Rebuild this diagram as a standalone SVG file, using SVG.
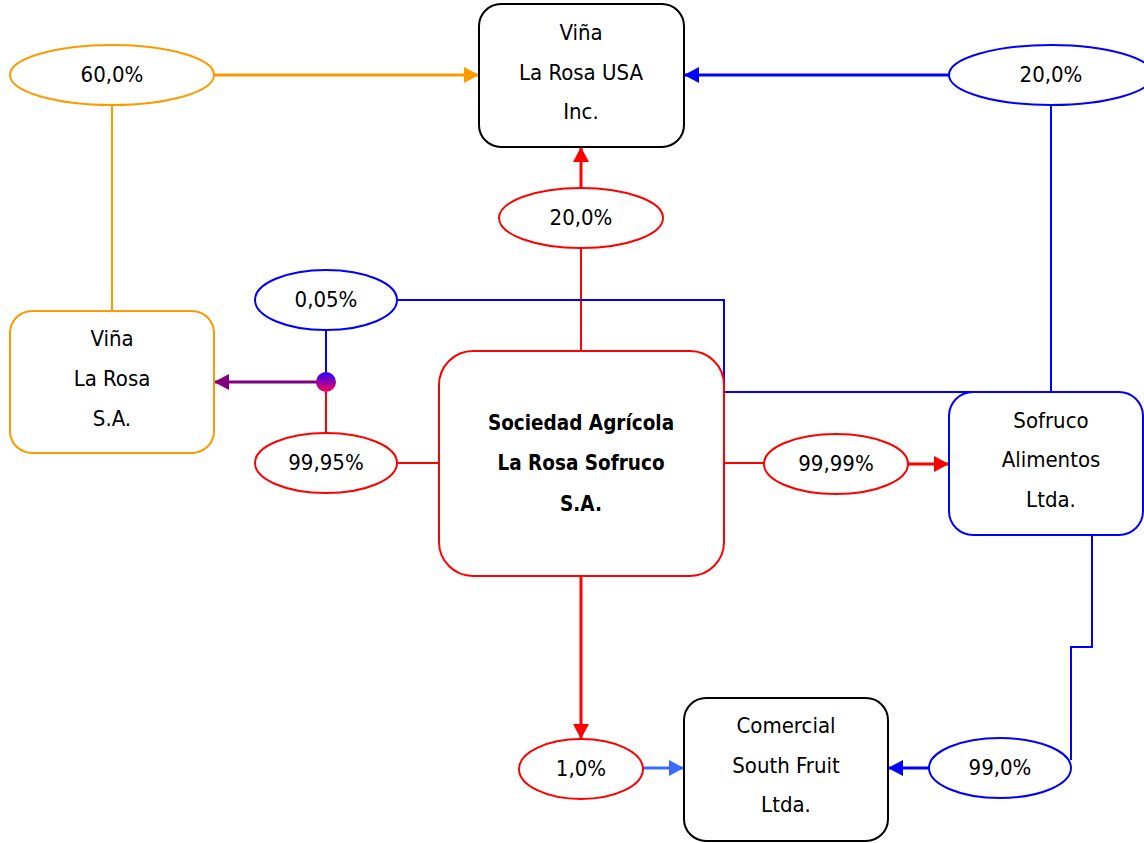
<svg xmlns="http://www.w3.org/2000/svg" width="1144" height="843" viewBox="0 0 1144 843">
<style>
text{font-family:"DejaVu Sans Condensed","DejaVu Sans",sans-serif;font-size:22px;fill:#000;text-anchor:middle}
.b{font-weight:bold;font-size:20.5px}
.box{fill:#fff;stroke-width:2}
.ell{fill:#fff;stroke-width:2}
.ln{fill:none;stroke-width:2}
.ar{fill:none;stroke-width:3}
.o{stroke:#FF9900}.r{stroke:#FF0000}.u{stroke:#0000FF}.k{stroke:#000}.p{stroke:#800080}.lb{stroke:#3A6BFF}
</style>
<defs>
<marker id="mo" markerUnits="userSpaceOnUse" markerWidth="15" markerHeight="16" refX="15" refY="8" orient="auto"><path d="M0,0L15,8L0,16z" fill="#FF9900"/></marker>
<marker id="mu" markerUnits="userSpaceOnUse" markerWidth="15" markerHeight="16" refX="15" refY="8" orient="auto"><path d="M0,0L15,8L0,16z" fill="#0000FF"/></marker>
<marker id="mr" markerUnits="userSpaceOnUse" markerWidth="15" markerHeight="16" refX="15" refY="8" orient="auto"><path d="M0,0L15,8L0,16z" fill="#FF0000"/></marker>
<marker id="mp" markerUnits="userSpaceOnUse" markerWidth="15" markerHeight="16" refX="15" refY="8" orient="auto"><path d="M0,0L15,8L0,16z" fill="#800080"/></marker>
<marker id="mlb" markerUnits="userSpaceOnUse" markerWidth="15" markerHeight="16" refX="15" refY="8" orient="auto"><path d="M0,0L15,8L0,16z" fill="#3A6BFF"/></marker>
<linearGradient id="dotg" x1="0" y1="0" x2="0" y2="1"><stop offset="0" stop-color="#2200FF"/><stop offset="1" stop-color="#FF0055"/></linearGradient>
</defs>
<g id="connectors">
<line class="ar o" x1="214" y1="75" x2="479" y2="75" marker-end="url(#mo)"/>
<line class="ln o" x1="112" y1="106" x2="112" y2="311"/>
<line class="ar u" x1="949" y1="75" x2="684" y2="75" marker-end="url(#mu)"/>
<line class="ln u" x1="1051" y1="105" x2="1051" y2="392"/>
<line class="ar r" x1="581" y1="188" x2="581" y2="147" marker-end="url(#mr)"/>
<line class="ln r" x1="581" y1="248" x2="581" y2="351"/>
<polyline class="ln u" points="398,300 724,300 724,392 1051,392"/>
<line class="ln u" x1="326" y1="330" x2="326" y2="372"/>
<line class="ln r" x1="326" y1="392" x2="326" y2="434"/>
<line class="ar p" x1="317" y1="382" x2="214" y2="382" marker-end="url(#mp)"/>
<line class="ln r" x1="398" y1="463" x2="439" y2="463"/>
<line class="ln r" x1="724" y1="463" x2="765" y2="463"/>
<line class="ar r" x1="908" y1="464" x2="949" y2="464" marker-end="url(#mr)"/>
<line class="ar r" x1="581" y1="576" x2="581" y2="739" marker-end="url(#mr)"/>
<line class="ar lb" x1="643" y1="768" x2="684" y2="768" marker-end="url(#mlb)"/>
<polyline class="ln u" points="1092,535 1092,647 1071,647 1071,760"/>
<line class="ar u" x1="929" y1="768" x2="888" y2="768" marker-end="url(#mu)"/>
<circle cx="326" cy="382" r="10" fill="url(#dotg)"/>
</g>
<g id="vina-usa">
<rect class="box k" x="479" y="4" width="205" height="143" rx="22"/>
<text x="581" y="40">Viña</text><text x="581" y="80">La Rosa USA</text><text x="581" y="119">Inc.</text>
</g>
<g id="vina-larosa">
<rect class="box o" x="10" y="311" width="204" height="142" rx="22"/>
<text x="112" y="346">Viña</text><text x="112" y="386">La Rosa</text><text x="112" y="426">S.A.</text>
</g>
<g id="sociedad">
<rect class="box r" x="439" y="351" width="285" height="225" rx="34"/>
<text class="b" x="581" y="430">Sociedad Agrícola</text><text class="b" x="581" y="470">La Rosa Sofruco</text><text class="b" x="581" y="511">S.A.</text>
</g>
<g id="sofruco">
<rect class="box u" x="949" y="392" width="194" height="143" rx="24"/>
<text x="1051" y="428">Sofruco</text><text x="1051" y="467">Alimentos</text><text x="1051" y="507">Ltda.</text>
</g>
<g id="comercial">
<rect class="box k" x="684" y="698" width="204" height="143" rx="22"/>
<text x="786" y="733">Comercial</text><text x="786" y="773">South Fruit</text><text x="786" y="812">Ltda.</text>
</g>
<g id="e60"><ellipse class="ell o" cx="112" cy="75" rx="102" ry="30"/><text x="112" y="82">60,0%</text></g>
<g id="e20b"><ellipse class="ell u" cx="1051" cy="75" rx="102" ry="30"/><text x="1051" y="82">20,0%</text></g>
<g id="e20r"><ellipse class="ell r" cx="581" cy="218" rx="82" ry="30"/><text x="581" y="225">20,0%</text></g>
<g id="e005"><ellipse class="ell u" cx="326" cy="300" rx="71" ry="30"/><text x="326" y="307">0,05%</text></g>
<g id="e9995"><ellipse class="ell r" cx="326" cy="463" rx="71" ry="30"/><text x="326" y="470">99,95%</text></g>
<g id="e9999"><ellipse class="ell r" cx="836" cy="464" rx="72" ry="30"/><text x="836" y="471">99,99%</text></g>
<g id="e1"><ellipse class="ell r" cx="581" cy="769" rx="62" ry="30"/><text x="581" y="776">1,0%</text></g>
<g id="e99"><ellipse class="ell u" cx="1000" cy="768" rx="71" ry="30"/><text x="1000" y="775">99,0%</text></g>
</svg>
